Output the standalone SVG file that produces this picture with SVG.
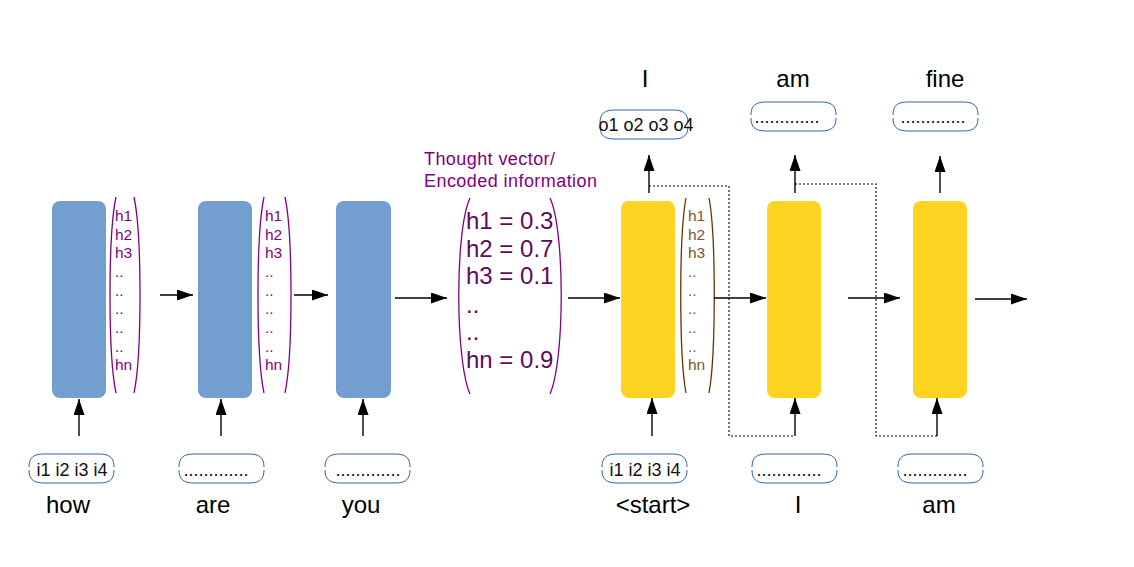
<svg xmlns="http://www.w3.org/2000/svg" width="1134" height="567" viewBox="0 0 1134 567">
<style>
text{font-family:"Liberation Sans",Arial,sans-serif}
.enc{fill:#729fcf}
.dec{fill:#fed322}
.pb{fill:none;stroke:#800080;stroke-width:1.3}
.bb{fill:none;stroke:#663300;stroke-width:1.3}
.ph{font-size:15.5px;fill:#800080}
.bh{font-size:15.5px;fill:#7a5632}
.tv{font-size:24px;fill:#5e0a5e}
.ttl{font-size:18px;fill:#800080}
.w{font-size:24px;fill:#000;text-anchor:middle}
.v{font-size:18px;fill:#111;text-anchor:middle}
.ov{fill:none;stroke:#3465a4;stroke-width:1}
.c{fill:none;stroke:#000;stroke-width:1.4}
.d{fill:none;stroke:#000;stroke-width:1.1;stroke-dasharray:2,2}
</style>
<defs>
<marker id="ah" markerWidth="16" markerHeight="11" refX="16" refY="5.5" orient="auto" markerUnits="userSpaceOnUse">
<path d="M0,0 L16,5.5 L0,11 Z" fill="#000"/>
</marker>
</defs>

<g id="title">
<text class="ttl" x="424" y="165" textLength="131" lengthAdjust="spacing">Thought vector/</text>
<text class="ttl" x="424" y="187" textLength="173" lengthAdjust="spacing">Encoded information</text>
</g>

<g id="enc1">
<rect class="enc" x="52" y="201" width="54" height="197" rx="8"/>
<path class="pb" d="M116,197 C108,235 108,355 116,393"/>
<path class="pb" d="M134,197 C142,235 142,355 134,393"/>
<text class="ph" x="115" y="221">h1</text><text class="ph" x="115" y="240">h2</text><text class="ph" x="115" y="258">h3</text>
<text class="ph" x="115" y="277">..</text><text class="ph" x="115" y="296">..</text><text class="ph" x="115" y="314">..</text>
<text class="ph" x="115" y="333">..</text><text class="ph" x="115" y="352">..</text><text class="ph" x="115" y="370">hn</text>
</g>

<g id="enc2">
<rect class="enc" x="198" y="201" width="54" height="197" rx="8"/>
<path class="pb" d="M264,197 C256,235 256,355 264,393"/>
<path class="pb" d="M285,197 C293,235 293,355 285,393"/>
<text class="ph" x="265" y="221">h1</text><text class="ph" x="265" y="240">h2</text><text class="ph" x="265" y="258">h3</text>
<text class="ph" x="265" y="277">..</text><text class="ph" x="265" y="296">..</text><text class="ph" x="265" y="314">..</text>
<text class="ph" x="265" y="333">..</text><text class="ph" x="265" y="352">..</text><text class="ph" x="265" y="370">hn</text>
</g>

<g id="enc3">
<rect class="enc" x="336" y="201" width="55" height="197" rx="8"/>
</g>

<g id="thought">
<path class="pb" d="M470,198 C455,230 455,360 470,394"/>
<path class="pb" d="M550,198 C565,230 565,360 550,394"/>
<text class="tv" x="466" y="229">h1 = 0.3</text>
<text class="tv" x="466" y="257">h2 = 0.7</text>
<text class="tv" x="466" y="284">h3 = 0.1</text>
<text class="tv" x="466" y="313">..</text>
<text class="tv" x="466" y="340">..</text>
<text class="tv" x="466" y="368">hn = 0.9</text>
</g>

<g id="dec1">
<rect class="dec" x="621" y="201" width="54" height="197" rx="8"/>
<path class="bb" d="M686,198 C679,235 679,355 686,393"/>
<path class="bb" d="M709,198 C716,235 716,355 709,393"/>
<text class="bh" x="688" y="221">h1</text><text class="bh" x="688" y="240">h2</text><text class="bh" x="688" y="258">h3</text>
<text class="bh" x="688" y="277">..</text><text class="bh" x="688" y="296">..</text><text class="bh" x="688" y="314">..</text>
<text class="bh" x="688" y="333">..</text><text class="bh" x="688" y="352">..</text><text class="bh" x="688" y="370">hn</text>
</g>

<g id="dec2">
<rect class="dec" x="767" y="201" width="54" height="197" rx="8"/>
</g>

<g id="dec3">
<rect class="dec" x="913" y="201" width="54" height="197" rx="8"/>
</g>

<g id="in1">
<path class="ov" d="M29,467 C29,458 33,454 44,454 H99 C110,454 114,458 114,467 M29,470 C29,479 33,483 44,483 H99 C110,483 114,479 114,470"/>
<text class="v" x="72" y="476">i1 i2 i3 i4</text>
<text class="w" x="68" y="513">how</text>
</g>
<g id="in2">
<path class="ov" d="M179,467 C179,458 183,454 194,454 H249 C260,454 264,458 264,467 M179,470 C179,479 183,483 194,483 H249 C260,483 264,479 264,470"/>
<text class="v" x="216" y="476">.............</text>
<text class="w" x="213" y="513">are</text>
</g>
<g id="in3">
<path class="ov" d="M325,467 C325,458 329,454 340,454 H395 C406,454 410,458 410,467 M325,470 C325,479 329,483 340,483 H395 C406,483 410,479 410,470"/>
<text class="v" x="368" y="476">.............</text>
<text class="w" x="361" y="513">you</text>
</g>
<g id="in4">
<path class="ov" d="M602,467 C602,458 606,454 617,454 H672 C683,454 687,458 687,467 M602,470 C602,479 606,483 617,483 H672 C683,483 687,479 687,470"/>
<text class="v" x="645" y="476">i1 i2 i3 i4</text>
<text class="w" x="653" y="513">&lt;start&gt;</text>
</g>
<g id="in5">
<path class="ov" d="M752,467 C752,458 756,454 767,454 H822 C833,454 837,458 837,467 M752,470 C752,479 756,483 767,483 H822 C833,483 837,479 837,470"/>
<text class="v" x="789" y="476">.............</text>
<text class="w" x="798" y="513">I</text>
</g>
<g id="in6">
<path class="ov" d="M898,467 C898,458 902,454 913,454 H968 C979,454 983,458 983,467 M898,470 C898,479 902,483 913,483 H968 C979,483 983,479 983,470"/>
<text class="v" x="935" y="476">.............</text>
<text class="w" x="939" y="513">am</text>
</g>

<g id="out1">
<path class="ov" d="M600,123 C600,114 604,110 615,110 H673 C684,110 688,114 688,123 M600,126 C600,135 604,139 615,139 H673 C684,139 688,135 688,126"/>
<text class="v" x="646" y="131">o1 o2 o3 o4</text>
<text class="w" x="645" y="87">I</text>
</g>
<g id="out2">
<path class="ov" d="M751,115 C751,106 755,102 766,102 H821 C832,102 836,106 836,115 M751,118 C751,127 755,131 766,131 H821 C832,131 836,127 836,118"/>
<text class="v" x="787" y="123">.............</text>
<text class="w" x="793" y="87">am</text>
</g>
<g id="out3">
<path class="ov" d="M893,115 C893,106 897,102 908,102 H963 C974,102 978,106 978,115 M893,118 C893,127 897,131 908,131 H963 C974,131 978,127 978,118"/>
<text class="v" x="933" y="123">.............</text>
<text class="w" x="945" y="87">fine</text>
</g>

<g id="connectors">
<line class="c" x1="160" y1="295" x2="193" y2="295" marker-end="url(#ah)"/>
<line class="c" x1="294" y1="295" x2="328" y2="295" marker-end="url(#ah)"/>
<line class="c" x1="395" y1="298" x2="447" y2="298" marker-end="url(#ah)"/>
<line class="c" x1="568" y1="298" x2="620" y2="298" marker-end="url(#ah)"/>
<line class="c" x1="714" y1="298" x2="766" y2="298" marker-end="url(#ah)"/>
<line class="c" x1="848" y1="298" x2="900" y2="298" marker-end="url(#ah)"/>
<line class="c" x1="975" y1="299" x2="1027" y2="299" marker-end="url(#ah)"/>
<line class="c" x1="79" y1="436" x2="79" y2="399" marker-end="url(#ah)"/>
<line class="c" x1="221" y1="436" x2="221" y2="399" marker-end="url(#ah)"/>
<line class="c" x1="363" y1="436" x2="363" y2="399" marker-end="url(#ah)"/>
<line class="c" x1="652" y1="436" x2="652" y2="398" marker-end="url(#ah)"/>
<line class="c" x1="795" y1="436" x2="795" y2="398" marker-end="url(#ah)"/>
<line class="c" x1="937" y1="436" x2="937" y2="398" marker-end="url(#ah)"/>
<line class="c" x1="649" y1="193" x2="649" y2="155" marker-end="url(#ah)"/>
<line class="c" x1="795" y1="193" x2="795" y2="155" marker-end="url(#ah)"/>
<line class="c" x1="940" y1="193" x2="940" y2="156" marker-end="url(#ah)"/>
<path class="d" d="M649,186 H729 V436 H795"/>
<path class="d" d="M795,184 H876 V436 H937"/>
</g>
</svg>
